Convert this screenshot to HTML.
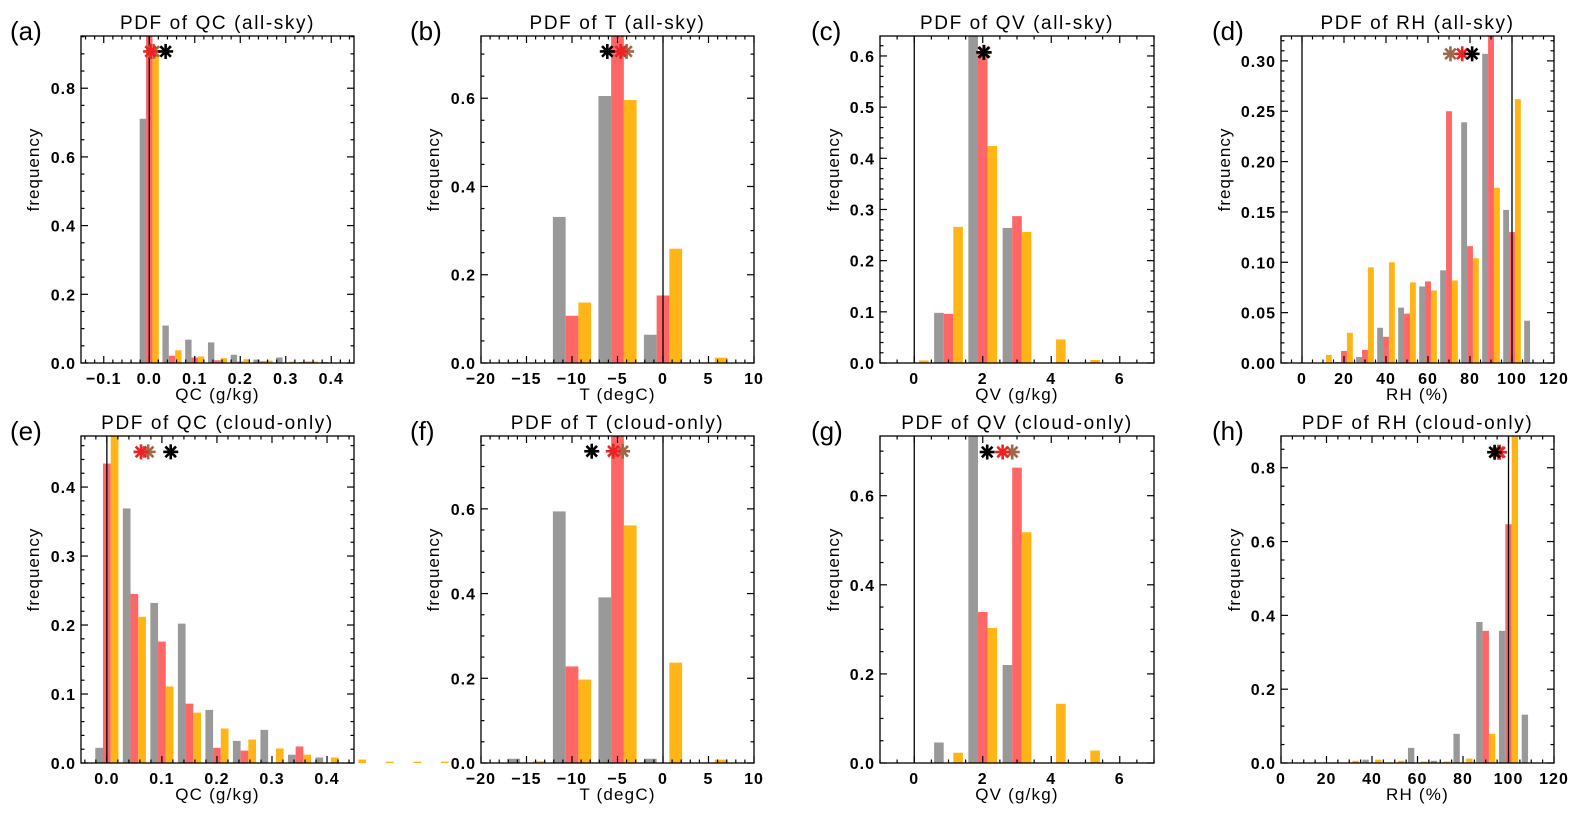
<!DOCTYPE html>
<html><head><meta charset="utf-8"><style>
html,body{margin:0;padding:0;background:#fff;}
svg{display:block;font-family:"Liberation Sans",sans-serif;}
</style></head><body>
<svg id="fig" width="1581" height="814" viewBox="0 0 1581 814" xmlns="http://www.w3.org/2000/svg"></svg>
<script>
// ---- data ----
const aCenters=[-0.1,-0.05,0,0.05,0.1,0.15,0.2,0.25,0.3,0.35,0.4];
const aGray=[0.001,0,0.711,0.109,0.068,0.060,0.024,0.010,0.016,0.003,0.003];
const aRed=[0,0,0.98,0.021,0.016,0.008,0.004,0.005,0.001,0.004,0];
const aOrange=[0,0,0.90,0.037,0.019,0.014,0.011,0.007,0.004,0.004,0];
const aStars=[0.01,0.003,0.036];

const bCenters=[-15,-10,-5,0,5];
const bGray=[0.002,0.331,0.605,0.064,0];
const bRed=[0,0.107,0.78,0.153,0];
const bOrange=[0,0.137,0.596,0.259,0.012];
const bStars=[-4.0,-4.66,-6.12];

const cCenters=[0,1,2,3,4,5];
const cGray=[0,0.098,0.66,0.264,0,0];
const cRed=[0,0.096,0.61,0.287,0,0];
const cOrange=[0.005,0.266,0.424,0.256,0.046,0.006];
const cStars=[2.05,2.03,2.03];

const dCenters=[10,20,30,40,50,60,70,80,90,100,110];
const dGray=[0,0.001,0.006,0.035,0.055,0.076,0.092,0.239,0.307,0.152,0.042];
const dRed=[0,0.012,0.013,0.026,0.049,0.081,0.250,0.116,0.33,0.130,0];
const dOrange=[0.008,0.030,0.095,0.100,0.080,0.072,0.082,0.104,0.174,0.262,0];
const dStars=[70.7,76.3,81.0];

const eCenters=[0,0.05,0.1,0.15,0.2,0.25,0.3,0.35,0.4,0.45,0.5,0.55,0.6];
const eGray=[0.022,0.369,0.232,0.202,0.077,0.032,0.048,0.012,0.008,0,0,0,0];
const eRed=[0.434,0.245,0.176,0.086,0.022,0.018,0,0.024,0,0,0,0,0];
const eOrange=[0.49,0.212,0.111,0.073,0.050,0.034,0.021,0.012,0.008,0.005,0.002,0.002,0.002];
const eStars=[0.075,0.062,0.116];

const fCenters=[-15,-10,-5,0,5];
const fGray=[0.010,0.594,0.391,0.010,0];
const fRed=[0,0.228,0.80,0,0];
const fOrange=[0.004,0.197,0.561,0.237,0.008];
const fStars=[-4.43,-5.46,-7.83];

const gCenters=[1,2,3,4,5];
const gGray=[0.046,0.75,0.220,0,0];
const gRed=[0,0.339,0.663,0,0];
const gOrange=[0.023,0.303,0.518,0.133,0.028];
const gStars=[2.86,2.58,2.13];

const hCenters=[30,40,50,60,70,80,90,100,110];
const hGray=[0,0.009,0,0.041,0.006,0.079,0.382,0.358,0.131];
const hRed=[0,0,0,0,0,0,0.358,0.647,0];
const hOrange=[0.006,0.009,0.006,0.004,0.004,0.012,0.079,0.90,0];
const hStars=[95.5,96.1,93.9];

const panels=[
 {id:'a',title:'PDF of QC (all-sky)',xt:'QC (g/kg)',box:[81,36,354,363],xr:[-0.15,0.45],yr:[0,0.952],xMaj:0.1,xMin:5,yMaj:0.2,yMin:4,xd:1,yd:1,bin:0.05,c:aCenters,g:aGray,r:aRed,o:aOrange,s:aStars,sy:0.907,vl:[0]},
 {id:'b',title:'PDF of T (all-sky)',xt:'T (degC)',box:[481,36,754,363],xr:[-20,10],yr:[0,0.741],xMaj:5,xMin:5,yMaj:0.2,yMin:4,xd:0,yd:1,bin:5,c:bCenters,g:bGray,r:bRed,o:bOrange,s:bStars,sy:0.706,vl:[0]},
 {id:'c',title:'PDF of QV (all-sky)',xt:'QV (g/kg)',box:[880,36,1154,363],xr:[-1,7],yr:[0,0.639],xMaj:2,xMin:4,yMaj:0.1,yMin:5,xd:0,yd:1,bin:1,c:cCenters,g:cGray,r:cRed,o:cOrange,s:cStars,sy:0.607,vl:[0]},
 {id:'d',title:'PDF of RH (all-sky)',xt:'RH (%)',box:[1281,36,1554,363],xr:[-10,120],yr:[0,0.3247],xMaj:20,xMin:4,yMaj:0.05,yMin:5,xd:0,yd:2,bin:10,c:dCenters,g:dGray,r:dRed,o:dOrange,s:dStars,sy:0.307,vl:[0,100]},
 {id:'e',title:'PDF of QC (cloud-only)',xt:'QC (g/kg)',box:[81,436,354,763],xr:[-0.047,0.449],yr:[0,0.474],xMaj:0.1,xMin:5,yMaj:0.1,yMin:5,xd:1,yd:1,bin:0.05,c:eCenters,g:eGray,r:eRed,o:eOrange,s:eStars,sy:0.451,vl:[0]},
 {id:'f',title:'PDF of T (cloud-only)',xt:'T (degC)',box:[481,436,754,763],xr:[-20,10],yr:[0,0.772],xMaj:5,xMin:5,yMaj:0.2,yMin:4,xd:0,yd:1,bin:5,c:fCenters,g:fGray,r:fRed,o:fOrange,s:fStars,sy:0.736,vl:[0]},
 {id:'g',title:'PDF of QV (cloud-only)',xt:'QV (g/kg)',box:[880,436,1154,763],xr:[-1,7],yr:[0,0.734],xMaj:2,xMin:4,yMaj:0.2,yMin:4,xd:0,yd:1,bin:1,c:gCenters,g:gGray,r:gRed,o:gOrange,s:gStars,sy:0.698,vl:[0]},
 {id:'h',title:'PDF of RH (cloud-only)',xt:'RH (%)',box:[1281,436,1554,763],xr:[0,120],yr:[0,0.886],xMaj:20,xMin:4,yMaj:0.2,yMin:4,xd:0,yd:1,bin:10,c:hCenters,g:hGray,r:hRed,o:hOrange,s:hStars,sy:0.842,vl:[100]}
];

const NS='http://www.w3.org/2000/svg';
const svg=document.getElementById('fig');
function mk(tag,attrs,parent){const e=document.createElementNS(NS,tag);for(const k in attrs)e.setAttribute(k,attrs[k]);(parent||svg).appendChild(e);return e;}
function fmt(v,d){let s=Math.abs(v)<1e-9?(0).toFixed(d):v.toFixed(d);return s.replace('-','\u2212');}

panels.forEach(p=>{
 const [L,T,R,B]=p.box;
 const X=v=>L+(v-p.xr[0])/(p.xr[1]-p.xr[0])*(R-L);
 const Y=v=>B-(Math.min(v,p.yr[1])-p.yr[0])/(p.yr[1]-p.yr[0])*(B-T);
 const G=mk('g',{});
 
 
 const w=0.28*p.bin;
 const series=[[p.g,'#999999','gray'],[p.r,'#ff6666','red'],[p.o,'#ffb515','orange']];
 series.forEach((s,si)=>{
  s[0].forEach((v,i)=>{
   if(v<=0)return;
   const x0=X(p.c[i]-1.5*w+si*w), x1=X(p.c[i]-0.5*w+si*w);
   const y=Y(v);
   const r=mk('rect',{x:x0,y:y,width:x1-x0,height:B-y,fill:s[1]},G);
   
   
  });
 });
 p.vl.forEach(v=>{
  const l=mk('line',{x1:X(v),x2:X(v),y1:T,y2:B,stroke:'#000','stroke-width':1.3},G);
  
  
 });
 const scol=['#a0684a','#ee2222','#000000'];
 const sname=['brown','red','black'];
 p.s.forEach((v,i)=>{
  const cx=X(v), cy=Y(p.sy), rr=7.5;
  const sg=mk('g',{stroke:scol[i],'stroke-width':2.6},G);
  
  
  for(let k=0;k<4;k++){const a=k*Math.PI/4;mk('line',{x1:cx-rr*Math.cos(a),y1:cy-rr*Math.sin(a),x2:cx+rr*Math.cos(a),y2:cy+rr*Math.sin(a)},sg);}
 });
 const bx=mk('rect',{x:L,y:T,width:R-L,height:B-T,fill:'none',stroke:'#000','stroke-width':1.3},G);
 
 
 const xstep=p.xMaj/p.xMin;
 const xs=Math.ceil((p.xr[0]-1e-9)/xstep), xe=Math.floor((p.xr[1]+1e-9)/xstep);
 for(let k=xs;k<=xe;k++){
  const v=k*xstep, x=X(v), major=(k%p.xMin===0), len=major?7:3.5;
  mk('line',{x1:x,x2:x,y1:B,y2:B-len,stroke:'#000','stroke-width':1.2},G);
  mk('line',{x1:x,x2:x,y1:T,y2:T+len,stroke:'#000','stroke-width':1.2},G);
  if(major){
   const t=mk('text',{x:x,y:B+21,'text-anchor':'middle','font-size':16,'font-weight':'bold','letter-spacing':1},G);
   t.textContent=fmt(v,p.xd);
   
   
  }
 }
 const ystep=p.yMaj/p.yMin;
 const ye=Math.floor((p.yr[1]+1e-9)/ystep);
 for(let k=0;k<=ye;k++){
  const v=k*ystep, y=Y(v), major=(k%p.yMin===0), len=major?7:3.5;
  mk('line',{x1:L,x2:L+len,y1:y,y2:y,stroke:'#000','stroke-width':1.2},G);
  mk('line',{x1:R,x2:R-len,y1:y,y2:y,stroke:'#000','stroke-width':1.2},G);
  if(major){
   const t=mk('text',{x:L-5,y:y+6,'text-anchor':'end','font-size':16,'font-weight':'bold','letter-spacing':1},G);
   t.textContent=fmt(v,p.yd);
   
   
  }
 }
 const tt=mk('text',{x:(L+R)/2,y:T-7,'text-anchor':'middle','font-size':19,'letter-spacing':1.6},G);
 tt.textContent=p.title;
 
 
 const lt=mk('text',{x:{a:10,e:10,b:410,f:410,c:811,g:811,d:1212,h:1212}[p.id],y:T+4,'font-size':26},G);
 lt.textContent='('+p.id+')';
 
 
 const xt=mk('text',{x:(L+R)/2,y:B+37,'text-anchor':'middle','font-size':17,'letter-spacing':1.2},G);
 xt.textContent=p.xt;
 
 
 const yx={a:39,e:39,b:439,f:439,c:839,g:839,d:1230,h:1240}[p.id];
 const yt=mk('text',{x:yx,y:(T+B)/2-30,'text-anchor':'middle','font-size':17,'letter-spacing':1,transform:'rotate(-90 '+yx+' '+((T+B)/2-30)+')'},G);
 yt.textContent='frequency';
 
 
});
</script>
</body></html>
